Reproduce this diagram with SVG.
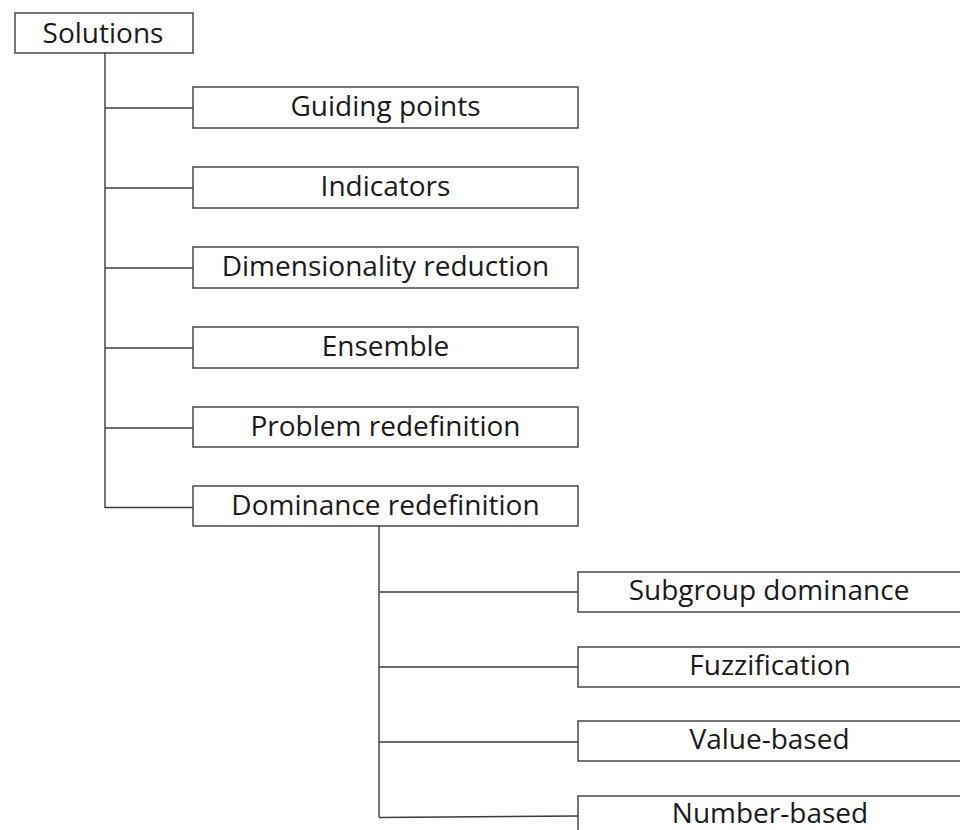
<svg xmlns="http://www.w3.org/2000/svg" width="960" height="830" viewBox="0 0 960 830">
<style>
.box{fill:#fff;stroke:#3c3c3c;stroke-width:1.4}
.lbl{font-family:"Open Sans","Liberation Sans",sans-serif;font-size:28px;fill:#1a1a1a;text-anchor:middle}
.con{stroke:#3c3c3c;stroke-width:1.4;fill:none}
</style>
<rect width="960" height="830" fill="#fff"/>
<g id="connectors">
<path class="con" d="M105 53V508M105 108H193M105 188H193M105 268H193M105 348H193M105 428H193M105 507.5H193"/>
<path class="con" d="M379 526V817M379 592H578M379 667H578M379 742H578M379 817.5L578 816"/>
</g>
<g id="solutions"><rect class="box" x="15" y="13" width="178" height="40"/><text class="lbl" x="103" y="42.5">Solutions</text></g>
<g id="guiding-points"><rect class="box" x="193" y="87" width="385" height="41"/><text class="lbl" x="385.5" y="115.5">Guiding points</text></g>
<g id="indicators"><rect class="box" x="193" y="167" width="385" height="41"/><text class="lbl" x="385.5" y="195.5">Indicators</text></g>
<g id="dimensionality-reduction"><rect class="box" x="193" y="247" width="385" height="41"/><text class="lbl" x="385.5" y="275.5">Dimensionality reduction</text></g>
<g id="ensemble"><rect class="box" x="193" y="327" width="385" height="41"/><text class="lbl" x="385.5" y="355.5">Ensemble</text></g>
<g id="problem-redefinition"><rect class="box" x="193" y="407" width="385" height="40"/><text class="lbl" x="385.5" y="435.5">Problem redefinition</text></g>
<g id="dominance-redefinition"><rect class="box" x="193" y="486" width="385" height="40"/><text class="lbl" x="385.5" y="514.5">Dominance redefinition</text></g>
<g id="subgroup-dominance"><rect class="box" x="578" y="572" width="385" height="40"/><text class="lbl" x="769" y="599.5">Subgroup dominance</text></g>
<g id="fuzzification"><rect class="box" x="578" y="647" width="385" height="40"/><text class="lbl" x="770" y="674.5">Fuzzification</text></g>
<g id="value-based"><rect class="box" x="578" y="721" width="385" height="40"/><text class="lbl" x="769.5" y="748.5">Value-based</text></g>
<g id="number-based"><rect class="box" x="578" y="796" width="385" height="40"/><text class="lbl" x="770" y="823">Number-based</text></g>
</svg>
